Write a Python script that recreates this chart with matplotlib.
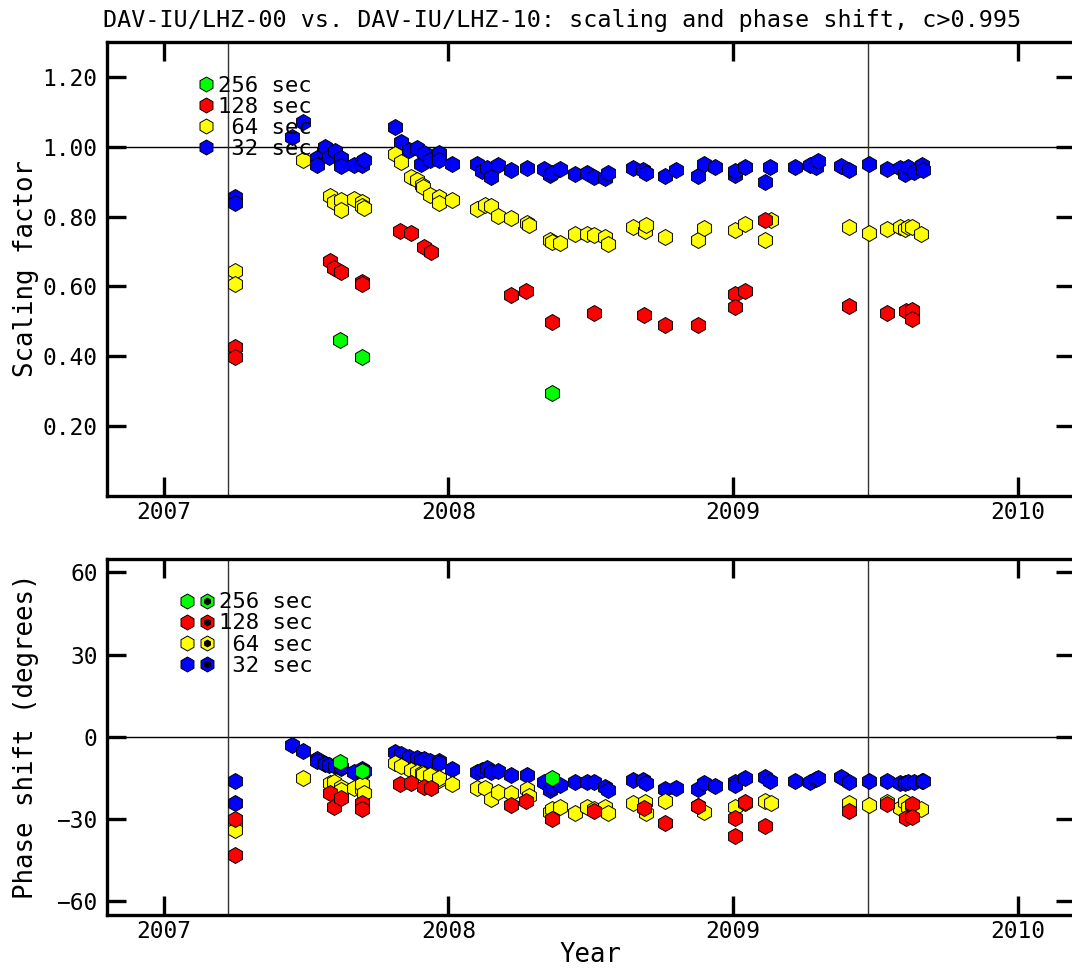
import matplotlib
matplotlib.use("Agg")
import matplotlib.pyplot as plt
from matplotlib.lines import Line2D
from matplotlib.legend_handler import HandlerTuple

plt.rcParams['font.family'] = ['DejaVu Sans Mono']

title = "DAV-IU/LHZ-00 vs. DAV-IU/LHZ-10: scaling and phase shift, c>0.995"

# decimal year, scaling factor, phase shift (degrees) per period
t_256 = [2007.621, 2007.697, 2008.364]
scale_256 = [0.446, 0.398, 0.295]
phase_256 = [-9.4, -12.4, -15.2]

t_128 = [2007.249, 2007.249, 2007.584, 2007.598, 2007.623, 2007.697, 2007.697,
         2007.829, 2007.867, 2007.914, 2007.939, 2008.220, 2008.273, 2008.364,
         2008.510, 2008.685, 2008.761, 2008.875, 2009.007, 2009.007, 2009.040,
         2009.112, 2009.408, 2009.539, 2009.607, 2009.627, 2009.629]
scale_128 = [0.427, 0.398, 0.672, 0.653, 0.640, 0.613, 0.608,
             0.759, 0.753, 0.714, 0.698, 0.574, 0.586, 0.497,
             0.524, 0.519, 0.490, 0.490, 0.579, 0.541, 0.586,
             0.790, 0.543, 0.524, 0.529, 0.533, 0.507]
phase_128 = [-30.2, -43.2, -20.4, -25.8, -22.5, -24.1, -26.5,
             -17.3, -16.8, -18.5, -18.9, -24.9, -23.4, -30.2,
             -27.1, -25.9, -31.4, -25.3, -29.6, -36.3, -23.7,
             -32.6, -27.0, -24.6, -29.8, -24.6, -29.4]

t_64 = [2007.249, 2007.249, 2007.490, 2007.584, 2007.598, 2007.623, 2007.623,
        2007.668, 2007.697, 2007.697, 2007.703, 2007.811, 2007.832, 2007.867,
        2007.890, 2007.907, 2007.912, 2007.937, 2007.966, 2007.966, 2008.013,
        2008.101, 2008.130, 2008.150, 2008.173, 2008.220, 2008.276, 2008.282,
        2008.355, 2008.362, 2008.393, 2008.446, 2008.487, 2008.510, 2008.551,
        2008.560, 2008.648, 2008.690, 2008.693, 2008.761, 2008.875, 2008.898,
        2009.007, 2009.040, 2009.112, 2009.132, 2009.408, 2009.478, 2009.539,
        2009.586, 2009.604, 2009.615, 2009.627, 2009.659]
scale_64 = [0.643, 0.608, 0.962, 0.859, 0.843, 0.848, 0.819,
            0.850, 0.843, 0.830, 0.824, 0.979, 0.955, 0.914,
            0.905, 0.891, 0.885, 0.862, 0.855, 0.838, 0.846,
            0.821, 0.833, 0.830, 0.802, 0.795, 0.781, 0.776,
            0.733, 0.728, 0.724, 0.751, 0.751, 0.748, 0.741,
            0.722, 0.771, 0.760, 0.776, 0.741, 0.733, 0.767,
            0.762, 0.779, 0.733, 0.790, 0.770, 0.752, 0.765,
            0.770, 0.765, 0.771, 0.770, 0.751]
phase_64 = [-31.0, -34.1, -15.2, -17.0, -16.4, -18.3, -19.5,
            -18.9, -19.2, -17.3, -20.5, -9.5, -10.7, -12.2,
            -12.8, -13.1, -13.6, -14.0, -15.8, -15.0, -17.3,
            -18.9, -18.9, -22.9, -20.1, -20.7, -19.2, -21.6,
            -27.4, -26.5, -25.6, -27.7, -25.8, -26.5, -25.6,
            -28.0, -24.3, -23.7, -28.0, -23.4, -25.3, -27.4,
            -25.8, -24.3, -23.4, -24.1, -24.3, -24.9, -24.0,
            -26.1, -23.7, -25.6, -25.0, -26.5]

t_32 = [2007.249, 2007.249, 2007.449, 2007.490, 2007.539, 2007.539, 2007.563,
        2007.568, 2007.580, 2007.600, 2007.623, 2007.623, 2007.668, 2007.697,
        2007.697, 2007.703, 2007.811, 2007.832, 2007.861, 2007.890, 2007.902,
        2007.914, 2007.937, 2007.966, 2007.966, 2008.013, 2008.101, 2008.118,
        2008.135, 2008.150, 2008.173, 2008.220, 2008.276, 2008.334, 2008.355,
        2008.362, 2008.393, 2008.446, 2008.487, 2008.510, 2008.551, 2008.560,
        2008.648, 2008.683, 2008.693, 2008.761, 2008.800, 2008.875, 2008.898,
        2008.937, 2009.007, 2009.007, 2009.040, 2009.112, 2009.130, 2009.218,
        2009.270, 2009.291, 2009.299, 2009.378, 2009.408, 2009.478, 2009.539,
        2009.586, 2009.604, 2009.615, 2009.633, 2009.662, 2009.665]
scale_32 = [0.855, 0.840, 1.029, 1.071, 0.967, 0.948, 0.985,
            1.000, 0.971, 0.989, 0.967, 0.945, 0.948, 0.957,
            0.948, 0.962, 1.057, 1.014, 0.992, 0.995, 0.952,
            0.981, 0.962, 0.981, 0.962, 0.952, 0.952, 0.931,
            0.940, 0.913, 0.948, 0.933, 0.938, 0.935, 0.919,
            0.925, 0.935, 0.922, 0.924, 0.914, 0.911, 0.924,
            0.938, 0.933, 0.924, 0.916, 0.933, 0.916, 0.952,
            0.941, 0.919, 0.930, 0.943, 0.900, 0.943, 0.941,
            0.948, 0.943, 0.960, 0.945, 0.933, 0.952, 0.935,
            0.938, 0.922, 0.941, 0.929, 0.948, 0.933]
phase_32 = [-16.1, -24.1, -3.0, -5.2, -8.3, -9.0, -9.7,
            -10.0, -10.3, -10.7, -11.5, -11.0, -12.8, -13.1,
            -11.9, -12.5, -5.5, -6.3, -7.3, -7.9, -8.5,
            -8.3, -8.8, -8.8, -9.5, -11.9, -12.8, -12.2,
            -11.5, -12.8, -12.4, -14.0, -14.0, -16.4, -19.5,
            -18.3, -17.6, -16.4, -16.6, -16.4, -18.3, -19.5,
            -15.8, -15.8, -17.0, -19.2, -18.9, -19.2, -17.0,
            -18.0, -16.7, -17.5, -15.2, -14.8, -16.1, -16.1,
            -16.4, -15.6, -15.2, -14.8, -16.4, -16.1, -16.1,
            -16.8, -16.8, -16.4, -16.4, -16.1, -16.1]

periods = [256, 128, 64, 32]
colors = ['#00ff00', '#ff0000', '#ffff00', '#0000ff']
times = [t_256, t_128, t_64, t_32]
scales = [scale_256, scale_128, scale_64, scale_32]
phases = [phase_256, phase_128, phase_64, phase_32]

# sensor change dates
changes = [2007.226, 2009.473]
years = [2007, 2008, 2009, 2010]

fig = plt.figure(figsize=(10.72, 9.69), dpi=100)
ax1 = fig.add_axes([0.0995, 0.4884, 0.9033, 0.4682])
ax2 = fig.add_axes([0.0995, 0.0560, 0.9033, 0.3674])

mk = dict(ls='none', marker='h', ms=11.5, mec='k', mew=0.7)

# 32 s first so the longer periods sit on top
for i in [3, 2, 1, 0]:
    ax1.plot(times[i], scales[i], mfc=colors[i], **mk)
    ax2.plot(times[i], phases[i], mfc=colors[i], **mk)

ax1.axhline(1.0, color='k', lw=1.0, zorder=1)
ax2.axhline(0.0, color='k', lw=1.0, zorder=1)
for ax in [ax1, ax2]:
    for c in changes:
        ax.axvline(c, color='0.2', lw=1.0, zorder=1)
    ax.set_xlim(2006.8, 2010.2)
    ax.set_xticks(years)
    ax.set_xticklabels([str(y) for y in years])
    ax.tick_params(direction='in', length=14, width=2.4, top=True, right=True,
                   labelsize=16.5)
    ax.tick_params(axis='y', pad=6.5)
    ax.tick_params(axis='x', pad=3.5)
    for sp in ax.spines.values():
        sp.set_linewidth(2.4)

ax1.set_ylim(0, 1.3)
ax1.set_yticks([0.2, 0.4, 0.6, 0.8, 1.0, 1.2])
ax1.set_yticklabels(['%.2f' % v for v in [0.2, 0.4, 0.6, 0.8, 1.0, 1.2]])
ax1.set_ylabel('Scaling factor', fontsize=18.5)
ax1.yaxis.set_label_coords(-0.070, 0.5)

ax2.set_ylim(-65, 65)
ax2.set_yticks([-60, -30, 0, 30, 60])
ax2.set_ylabel('Phase shift (degrees)', fontsize=18.5)
ax2.yaxis.set_label_coords(-0.070, 0.5)
ax2.set_xlabel('Year', fontsize=18.5)
ax2.xaxis.set_label_coords(0.5, -0.0767)

labels = ['%3d sec' % p for p in periods]
leg_font = {'family': 'DejaVu Sans Mono', 'size': 16}
lmk = dict(ls='none', marker='h', ms=10.8, mec='k', mew=0.7)

top_handles = [Line2D([], [], mfc=c, **lmk) for c in colors]
ax1.legend(top_handles, labels, loc='upper left', bbox_to_anchor=(0.0945, 0.926),
           frameon=False, prop=leg_font, borderpad=0, borderaxespad=0,
           handlelength=0.7, handleheight=0.7, handletextpad=0.212,
           labelspacing=0.05, numpoints=1)

bot_handles = []
for c in colors:
    plain = Line2D([], [], mfc=c, **lmk)
    dotted = (Line2D([], [], mfc=c, **lmk),
              Line2D([], [], ls='none', marker='h', ms=4.5, mfc='k', mec='k'))
    bot_handles.append((plain, dotted))
ax2.legend(bot_handles, labels, loc='upper left', bbox_to_anchor=(0.0752, 0.9056),
           frameon=False, prop=leg_font, borderpad=0, borderaxespad=0,
           handlelength=1.573, handleheight=0.7, handletextpad=0.212,
           labelspacing=0.05, numpoints=1,
           handler_map={h: HandlerTuple(ndivide=None, pad=0.173) for h in bot_handles})

fig.text(0.0961, 0.9721, title, ha='left', va='baseline', fontsize=16.8)

fig.savefig('out.png', dpi=100)
